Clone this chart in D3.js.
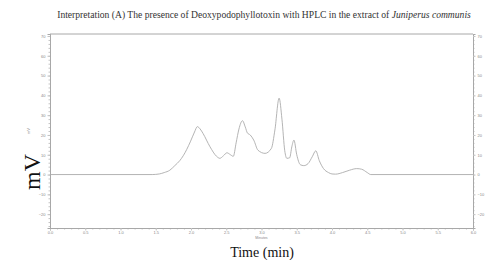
<!DOCTYPE html>
<html>
<head>
<meta charset="utf-8">
<script src="https://cdn.jsdelivr.net/npm/d3@7"></script>
<style>
  body { margin: 0; background: #fff; }
  svg { display: block; }
  text { font-family: "Liberation Serif", "DejaVu Serif", serif; }
</style>
</head>
<body>
<svg id="chart" width="489" height="260"></svg>
<script>
// chromatogram trace: time (min) and signal (mV)
var times = [0, 1.45, 1.55, 1.62, 1.7, 1.77, 1.84, 1.89, 1.99, 2.05, 2.09, 2.13, 2.17, 2.27, 2.36, 2.41,
  2.46, 2.51, 2.56, 2.6, 2.64, 2.68, 2.73, 2.77, 2.8, 2.84, 2.89, 2.95, 3.05, 3.14, 3.19, 3.25,
  3.29, 3.33, 3.36, 3.4, 3.43, 3.46, 3.5, 3.55, 3.6, 3.66, 3.72, 3.77, 3.82, 3.88, 3.95, 4.0,
  4.05, 4.15, 4.25, 4.35, 4.42, 4.5, 4.55, 6.0];
var signal = [0, 0, 0.3, 1, 2.2, 4.5, 7, 9.5, 16.5, 21.5, 24.2, 23, 20.8, 14, 9.3, 8.2,
  9.5, 11, 10, 9.2, 16, 23, 27.2, 24, 21, 20, 17.4, 12.3, 10.7, 13.2, 22.5, 38.6,
  28, 12, 8.2, 8.5, 14, 17.4, 10, 5, 4.5, 5.5, 9, 12, 7, 3, 1, 0.3,
  0.2, 1, 2.2, 3, 2.7, 1, 0, 0];

var xTicks = [0, 0.5, 1, 1.5, 2, 2.5, 3, 3.5, 4, 4.5, 5, 5.5, 6];
var yTicks = [-20, -10, 0, 10, 20, 30, 40, 50, 60, 70];

var margin = {top: 34, right: 16, bottom: 32, left: 50};
var width = 489 - margin.left - margin.right,
    height = 260 - margin.top - margin.bottom;

var svg = d3.select('#chart');

var x = d3.scaleLinear().domain([0, 6]).range([0, width]);
var y = d3.scaleLinear().domain([-27, 71]).range([height, 0]);

var chart = svg.append('g')
  .attr('transform', 'translate(' + margin.left + ',' + margin.top + ')');

var axisColor = '#a8a8a8';

function styleAxis(g) {
  g.select('.domain').attr('stroke', axisColor);
  g.selectAll('.tick line').attr('stroke', '#c4c4c4');
  g.selectAll('.tick text').attr('fill', '#888').style('font-size', '4px')
    .style('font-family', '"Liberation Sans", sans-serif');
}

// minor ticks first, then the labelled ones
chart.append('g')
  .attr('transform', 'translate(0,' + height + ')')
  .call(d3.axisBottom(x).ticks(60).tickSize(1.5).tickFormat(''))
  .call(styleAxis);
chart.append('g')
  .attr('transform', 'translate(0,' + height + ')')
  .call(d3.axisBottom(x).tickValues(xTicks).tickSize(2.5).tickFormat(d3.format('.1f')).tickPadding(1))
  .call(styleAxis);

chart.append('g')
  .call(d3.axisLeft(y).tickValues(d3.range(-26, 71, 2)).tickSize(1.5).tickFormat(''))
  .call(styleAxis);
chart.append('g')
  .call(d3.axisLeft(y).tickValues(yTicks).tickSize(2.5).tickPadding(2))
  .call(styleAxis);

chart.append('g')
  .attr('transform', 'translate(' + width + ',0)')
  .call(d3.axisRight(y).tickValues(d3.range(-26, 71, 2)).tickSize(1.5).tickFormat(''))
  .call(styleAxis);
chart.append('g')
  .attr('transform', 'translate(' + width + ',0)')
  .call(d3.axisRight(y).tickValues(yTicks).tickSize(2.5).tickPadding(2))
  .call(styleAxis);

// top edge of the frame
chart.append('line')
  .attr('x1', 0).attr('x2', width)
  .attr('y1', 0).attr('y2', 0)
  .attr('stroke', axisColor);

var pts = times.map(function(t, i) { return [t, signal[i]]; });

var line = d3.line()
  .x(function(d) { return x(d[0]); })
  .y(function(d) { return y(d[1]); })
  .curve(d3.curveMonotoneX);

chart.append('path')
  .datum(pts)
  .attr('d', line)
  .attr('fill', 'none')
  .attr('stroke', '#ababab')
  .attr('stroke-width', 0.9);

// titles and labels
svg.append('text')
  .attr('x', 264).attr('y', 18)
  .attr('text-anchor', 'middle')
  .style('font-size', '9.6px')
  .attr('fill', '#333')
  .html('Interpretation (A) The presence of Deoxypodophyllotoxin with HPLC in the extract of <tspan font-style="italic">Juniperus communis</tspan>');

svg.append('text')
  .attr('x', margin.left + x(3)).attr('y', 239)
  .attr('text-anchor', 'middle')
  .style('font-size', '3.5px')
  .style('font-family', '"Liberation Sans", sans-serif')
  .attr('fill', '#888')
  .text('Minutes');

svg.append('text')
  .attr('transform', 'translate(30,131) rotate(-90)')
  .attr('text-anchor', 'middle')
  .style('font-size', '4px')
  .style('font-family', '"Liberation Sans", sans-serif')
  .attr('fill', '#888')
  .text('mV');

svg.append('text')
  .attr('transform', 'translate(40,172) rotate(-90)')
  .attr('text-anchor', 'middle')
  .style('font-size', '24px')
  .attr('fill', '#111')
  .text('mV');

svg.append('text')
  .attr('x', 262).attr('y', 257)
  .attr('text-anchor', 'middle')
  .style('font-size', '14px')
  .attr('fill', '#111')
  .text('Time (min)');
</script>
</body>
</html>
